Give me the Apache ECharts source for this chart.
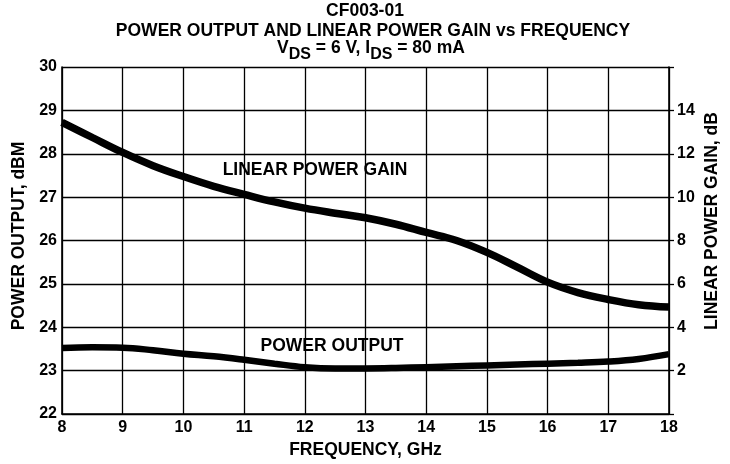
<!DOCTYPE html>
<html><head><meta charset="utf-8">
<script src="https://cdn.jsdelivr.net/npm/echarts@6/dist/echarts.min.js"></script>
<style>html,body{margin:0;padding:0;background:#fff}#c{width:730px;height:464px}</style>
</head><body><div id="c"></div>
<script>
const freqGain = [8, 8.5, 9, 9.5, 10, 10.5, 11, 11.5, 12, 12.5, 13, 13.5, 14, 14.5, 15, 15.5, 16, 16.5, 17, 17.5, 18];
const gainDb   = [13.45, 12.75, 12.06, 11.45, 10.95, 10.5, 10.13, 9.78, 9.49, 9.26, 9.05, 8.75, 8.37, 8.0, 7.45, 6.77, 6.08, 5.6, 5.28, 5.04, 4.93];
const freqPout = [8, 8.5, 9, 9.5, 10, 10.5, 11, 11.5, 12, 12.5, 13, 13.5, 14, 14.5, 15, 15.5, 16, 16.5, 17, 17.5, 18];
const poutDbm  = [23.52, 23.54, 23.53, 23.47, 23.39, 23.33, 23.25, 23.16, 23.08, 23.05, 23.05, 23.06, 23.08, 23.1, 23.12, 23.14, 23.16, 23.18, 23.21, 23.27, 23.38];
const xTicks = [8, 9, 10, 11, 12, 13, 14, 15, 16, 17, 18];
const leftTicks = [22, 23, 24, 25, 26, 27, 28, 29, 30];
const rightTicks = [2, 4, 6, 8, 10, 12, 14];

const FONT = '"Liberation Sans", Arial, sans-serif';
const BIG = 'bold 17.5px "Liberation Sans", Arial, sans-serif';
const chart = echarts.init(document.getElementById('c'));
chart.setOption({
  animation: false,
  backgroundColor: '#fff',
  textStyle: { fontFamily: FONT, color: '#000' },
  grid: { left: 62, right: 61, top: 67, bottom: 50, containLabel: false },
  xAxis: {
    type: 'value', min: 8, max: 18, interval: 1,
    name: 'FREQUENCY, GHz', nameLocation: 'middle', nameGap: 26,
    nameTextStyle: { fontFamily: FONT, fontSize: 17.5, fontWeight: 'bold', color: '#000' },
    axisLine: { show: true, lineStyle: { color: '#000', width: 1.6 } },
    axisTick: { show: false },
    axisLabel: { fontFamily: FONT, fontSize: 16, fontWeight: 'bold', color: '#000', margin: 6,
      formatter: v => xTicks.includes(v) ? String(v) : '' },
    splitLine: { show: true, lineStyle: { color: '#000', width: 1.3 } }
  },
  yAxis: [
    {
      type: 'value', min: 22, max: 30, interval: 1, position: 'left',
      axisLine: { show: true, lineStyle: { color: '#000', width: 1.6 } },
      axisTick: { show: false },
      axisLabel: { fontFamily: FONT, fontSize: 16, fontWeight: 'bold', color: '#000', margin: 5,
        formatter: v => leftTicks.includes(v) ? String(v) : '' },
      splitLine: { show: true, lineStyle: { color: '#000', width: 1.3 } }
    },
    {
      type: 'value', min: 0, max: 16, interval: 2, position: 'right',
      axisLine: { show: true, lineStyle: { color: '#000', width: 1.6 } },
      axisTick: { show: true, inside: false, length: 5, lineStyle: { color: '#000', width: 1.3 } },
      axisLabel: { fontFamily: FONT, fontSize: 16, fontWeight: 'bold', color: '#000', margin: 8,
        formatter: v => rightTicks.includes(v) ? String(v) : '' },
      splitLine: { show: false }
    }
  ],
  graphic: [
    { type: 'text', x: 365, y: 11.5, style: { text: 'CF003-01', font: BIG, fill: '#000', align: 'center', verticalAlign: 'middle' } },
    { type: 'text', x: 373, y: 31, style: { text: 'POWER OUTPUT AND LINEAR POWER GAIN vs FREQUENCY', font: BIG, fill: '#000', align: 'center', verticalAlign: 'middle' } },
    { type: 'text', x: 371, y: 48, style: {
        text: '{n|V}{s|DS}{n| = 6 V, I}{s|DS}{n| = 80 mA}', fill: '#000', align: 'center', verticalAlign: 'middle',
        rich: {
          n: { fontFamily: FONT, fontSize: 17.5, fontWeight: 'bold', fill: '#000', lineHeight: 30, verticalAlign: 'middle' },
          s: { fontFamily: FONT, fontSize: 16, fontWeight: 'bold', fill: '#000', lineHeight: 30, verticalAlign: 'bottom' }
        } } },
    { type: 'text', x: 19, y: 236, rotation: Math.PI / 2, style: { text: 'POWER OUTPUT, dBM', font: BIG, fill: '#000', align: 'center', verticalAlign: 'middle' } },
    { type: 'text', x: 712, y: 221, rotation: Math.PI / 2, style: { text: 'LINEAR POWER GAIN, dB', font: BIG, fill: '#000', align: 'center', verticalAlign: 'middle' } },
    { type: 'text', x: 315, y: 170, style: { text: 'LINEAR POWER GAIN', font: BIG, fill: '#000', align: 'center', verticalAlign: 'middle' } },
    { type: 'text', x: 332, y: 346, style: { text: 'POWER OUTPUT', font: BIG, fill: '#000', align: 'center', verticalAlign: 'middle' } }
  ],
  series: [
    { name: 'LINEAR POWER GAIN', type: 'line', yAxisIndex: 1, smooth: 0.4, symbol: 'none',
      data: freqGain.map((f, i) => [f, gainDb[i]]), lineStyle: { color: '#000', width: 7.5 } },
    { name: 'POWER OUTPUT', type: 'line', yAxisIndex: 0, smooth: 0.4, symbol: 'none',
      data: freqPout.map((f, i) => [f, poutDbm[i]]), lineStyle: { color: '#000', width: 6.5 } }
  ]
});
</script></body></html>
